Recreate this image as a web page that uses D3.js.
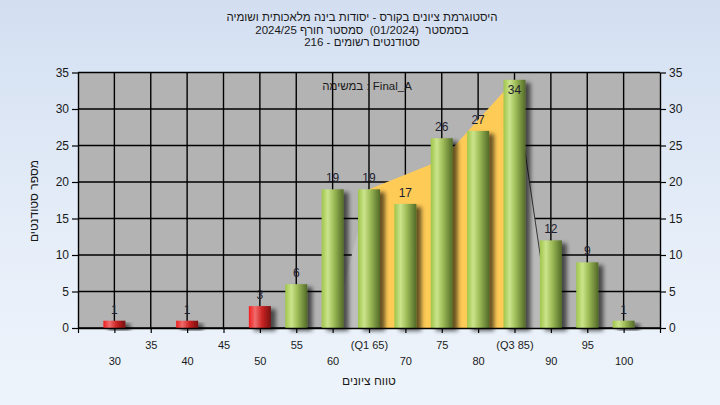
<!DOCTYPE html>
<html><head><meta charset="utf-8">
<script src="https://cdn.jsdelivr.net/npm/d3@7"></script>
<style>body{margin:0;}svg{display:block;} .pre{white-space:pre;}</style>
</head><body>
<svg id="c" width="720" height="405"></svg>
<script>
// ---- data ----
const categories = [30,35,40,45,50,55,60,65,70,75,80,85,90,95,100];
const counts     = [1,0,1,0,3,6,19,19,17,26,27,34,12,9,1];
const xTickLabels = ["30","35","40","45","50","55","60","(Q1 65)","70","75","80","(Q3 85)","90","95","100"];
const yTicks = [0,5,10,15,20,25,30,35];
const bandX = [60,65,75,85,90];
const bandY = [0,19,23,34,0];
const passMark = 55;
const titleLines = [
  "היסטוגרמת ציונים בקורס - יסודות בינה מלאכותית ושומיה",
  "בסמסטר  (01/2024)  סמסטר חורף 2024/25",
  "סטודנטים רשומים - 216"
];
const taskLabel = "במשימה : Final_A";
const xTitle = "טווח ציונים";
const yTitle = "מספר סטודנטים";

// ---- setup ----
const W = 720, H = 405;
const L = 78, R = 660, T = 72.5, B = 328;
const FONT = "'Liberation Sans', Arial, sans-serif";
const svg = d3.select("#c");
const defs = svg.append("defs");

const bgG = defs.append("linearGradient").attr("id","bg").attr("x1",0).attr("y1",0).attr("x2",0).attr("y2",1);
bgG.append("stop").attr("offset","0").attr("stop-color","#d3dff1");
bgG.append("stop").attr("offset","0.6").attr("stop-color","#e6eef9");
bgG.append("stop").attr("offset","1").attr("stop-color","#eef4fb");

function hGrad(id, stops){
  const g = defs.append("linearGradient").attr("id",id).attr("x1",0).attr("y1",0).attr("x2",1).attr("y2",0);
  stops.forEach(s => g.append("stop").attr("offset",s[0]).attr("stop-color",s[1]));
}
hGrad("gGreen", [[0,"#9fc54a"],[0.28,"#cbe48c"],[0.55,"#9fbd58"],[1,"#526a28"]]);
hGrad("gRed",   [[0,"#f01e1e"],[0.28,"#f06c6c"],[0.6,"#cc2424"],[1,"#761010"]]);

const f = defs.append("filter").attr("id","sh").attr("x","-30%").attr("y","-20%").attr("width","180%").attr("height","150%");
f.append("feGaussianBlur").attr("in","SourceAlpha").attr("stdDeviation",2);
f.append("feOffset").attr("dx",5).attr("dy",3).attr("result","o");
f.append("feComponentTransfer").append("feFuncA").attr("type","linear").attr("slope",0.6);
const fm = f.append("feMerge"); fm.append("feMergeNode"); fm.append("feMergeNode").attr("in","SourceGraphic");

svg.append("rect").attr("width",W).attr("height",H).attr("fill","url(#bg)");

const x = d3.scaleLinear().domain([25,105]).range([L,R]);
const y = d3.scaleLinear().domain([0,35]).range([B,T]);

// plot area
svg.append("rect").attr("x",L).attr("y",T).attr("width",R-L).attr("height",B-T).attr("fill","#b3b3b3");

// grid
const grid = svg.append("g").attr("stroke","#000").attr("stroke-width",1.4);
yTicks.forEach(v => grid.append("line").attr("x1",L).attr("x2",R).attr("y1",y(v)).attr("y2",y(v)));
categories.forEach(v => grid.append("line").attr("x1",x(v)).attr("x2",x(v)).attr("y1",T).attr("y2",B));

// quartile band
const pts = bandX.map((v,i)=>({x:bandX[i], y:bandY[i]}));
const area = d3.area().x(d=>x(d.x)).y0(y(0)).y1(d=>y(d.y));
svg.append("path").datum([pts[0],pts[1]]).attr("d",area).attr("fill","#bebebe");
svg.append("path").datum([pts[3],pts[4]]).attr("d",area).attr("fill","#bababa");
svg.append("path").datum(pts.slice(1,4)).attr("d",area).attr("fill","#ffcb57");
svg.append("path").datum([pts[3],pts[4]]).attr("d",d3.line().x(d=>x(d.x)).y(d=>y(d.y)))
  .attr("stroke","#333").attr("stroke-width",1).attr("fill","none");

// bars
const data = categories.map((c,i)=>({c, v:counts[i]})).filter(d=>d.v>0);
const bw = 22;
svg.append("g").selectAll("rect").data(data).join("rect")
  .attr("x",d=>x(d.c)-bw/2).attr("width",bw)
  .attr("y",d=>y(d.v)).attr("height",d=>y(0)-y(d.v))
  .attr("fill",d=>d.c<passMark?"url(#gRed)":"url(#gGreen)")
  .attr("filter","url(#sh)");

// axes
function styleAxis(g){
  g.attr("font-family",FONT).attr("font-size",12);
  g.select(".domain").attr("stroke","#000").attr("stroke-width",1.4);
  g.selectAll(".tick line").attr("stroke","#000").attr("stroke-width",1.2);
  g.selectAll(".tick text").attr("fill","#1a1a1a");
}
svg.append("g").attr("transform",`translate(${L},0)`)
  .call(d3.axisLeft(y).tickValues(yTicks).tickSize(6).tickPadding(3).tickSizeOuter(0)).call(styleAxis);
svg.append("g").attr("transform",`translate(${R},0)`)
  .call(d3.axisRight(y).tickValues(yTicks).tickSize(6).tickPadding(3).tickSizeOuter(0)).call(styleAxis);
const xTickVals = [25].concat(categories, [105]);
const xg = svg.append("g").attr("transform",`translate(0,${B})`)
  .call(d3.axisBottom(x).tickValues(xTickVals).tickSize(5).tickSizeOuter(0)
    .tickFormat(d => { const i = categories.indexOf(d); return i<0 ? "" : xTickLabels[i]; }))
  .call(styleAxis);
xg.attr("font-size",11);
xg.selectAll(".tick text").attr("y", d => { const i = categories.indexOf(d); return (i%2===1) ? 13 : 29; });

// value labels
svg.append("g").attr("font-family",FONT).attr("font-size",12).attr("fill","#1e1e30").attr("text-anchor","middle")
  .selectAll("text").data(data).join("text")
  .attr("x",d=>x(d.c))
  .attr("y",d=> (y(d.v)-7 < T+12) ? y(d.v)+14 : y(d.v)-7)
  .text(d=>d.v);

// task label
svg.append("text").attr("x",367).attr("y",90).attr("text-anchor","middle")
  .attr("font-family",FONT).attr("font-size",11.5).attr("fill","#1a1a1a").text(taskLabel);

// titles
svg.append("g").attr("font-family",FONT).attr("font-size",11.5).attr("fill","#1a1a1a")
  .selectAll("text").data(titleLines).join("text")
  .attr("class","pre")
  .attr("x",362).attr("y",(d,i)=>21+i*12.5).attr("text-anchor","middle").attr("direction","rtl")
  .text(d=>d);

svg.append("text").attr("x",369).attr("y",385).attr("text-anchor","middle").attr("direction","rtl")
  .attr("font-family",FONT).attr("font-size",12).attr("fill","#1a1a1a").text(xTitle);
svg.append("text").attr("transform","translate(38,201) rotate(-90)").attr("text-anchor","middle").attr("direction","rtl")
  .attr("font-family",FONT).attr("font-size",12).attr("fill","#1a1a1a").text(yTitle);
</script>
</body></html>
